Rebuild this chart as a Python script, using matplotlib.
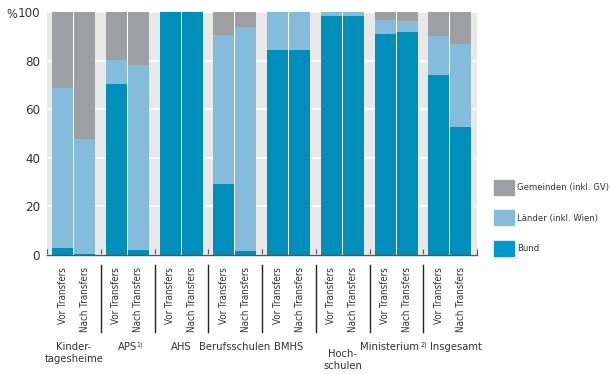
import matplotlib
matplotlib.use("Agg")
import matplotlib.pyplot as plt
from matplotlib.patches import Patch
import numpy as np

plt.rcParams["font.family"] = ["DejaVu Sans"]
plt.rcParams["font.stretch"] = "condensed"

# Daten (Anteile in %)
categories = ["Kinder-\ntagesheime", "APS", "AHS", "Berufsschulen", "BMHS",
              "Hoch-\nschulen", "Ministerium", "Insgesamt"]
bund_vor = [2.9, 70.4, 100, 29.4, 84.4, 98.4, 90.9, 74.2]
bund_nach = [0.3, 1.9, 100, 1.5, 84.4, 98.4, 91.8, 52.8]
laender_vor = [65.9, 9.9, 0, 61.2, 15.6, 1.6, 5.8, 15.9]
laender_nach = [47.6, 76.4, 0, 92.4, 15.6, 1.6, 4.5, 34.1]
gemeinden_vor = [31.2, 19.7, 0, 9.4, 0, 0, 3.3, 9.9]
gemeinden_nach = [52.1, 21.7, 0, 6.1, 0, 0, 3.7, 13.1]

c_bund = "#008fbb"
c_laender = "#85bcdb"
c_gem = "#9d9fa3"
c_text = "#333333"

fig = plt.figure(figsize=(6.14, 3.74), dpi=100)
ax = fig.add_axes([47 / 614, 1 - 255 / 374, 430 / 614, 243 / 374])
ax.set_facecolor("#e8e8e8")

x = np.arange(len(categories))
w = 0.39
for pos, b, l, g in [(x + 0.29, bund_vor, laender_vor, gemeinden_vor),
                     (x + 0.70, bund_nach, laender_nach, gemeinden_nach)]:
    b = np.array(b)
    l = np.array(l)
    g = np.array(g)
    ax.bar(pos, b, w, color=c_bund, lw=0, zorder=2)
    ax.bar(pos, l, w, bottom=b, color=c_laender, lw=0, zorder=2)
    ax.bar(pos, g, w, bottom=b + l, color=c_gem, lw=0, zorder=2)

# weisser Spalt zwischen Vor/Nach
for i in x:
    ax.axvspan(i + 0.485, i + 0.505, color="white", lw=0, zorder=1)

ax.set_xlim(0, len(categories))
ax.set_ylim(0, 100)
ax.set_yticks([0, 20, 40, 60, 80, 100])
ax.yaxis.grid(True, color="white", lw=1.2, zorder=0)
ax.set_axisbelow(True)
ax.tick_params(axis="y", length=0, labelsize=9.5, labelcolor=c_text, pad=5)

# Achsen-Ticks zwischen Gruppen
ax.set_xticks(np.arange(len(categories) + 1), minor=True)
ax.tick_params(axis="x", which="minor", direction="in", length=4, width=0.8, color="#555555")
ticks = np.concatenate([x + 0.29, x + 0.70])
labels = ["Vor Transfers"] * len(x) + ["Nach Transfers"] * len(x)
ax.set_xticks(ticks)
ax.set_xticklabels(labels, rotation=90, fontsize=7, color=c_text, va="top")
ax.tick_params(axis="x", which="major", length=0, pad=9)

for s in ["top", "right", "left"]:
    ax.spines[s].set_visible(False)
ax.spines["bottom"].set_color("#555555")
ax.spines["bottom"].set_linewidth(1)

tr = ax.get_xaxis_transform()
# Trennlinien unter der Achse
for i in range(1, len(categories)):
    ax.plot([i, i], [-10 / 243, -77 / 243], transform=tr, color="#222222",
            lw=1, clip_on=False)

label_x = [0.5, 1.5, 2.5, 3.5, 4.5, 5.5, 6.37, 7.6]
for i, c in enumerate(categories):
    yy = -87 / 243
    if i == 5:
        yy = -94 / 243
    ax.text(label_x[i], yy, c, transform=tr, ha="center", va="top",
            fontsize=8, color=c_text, linespacing=1.3)

ax.text(1.66, -86 / 243, "1)", transform=tr, fontsize=5, color=c_text, va="top")
ax.text(7.01, -86 / 243, "2)", transform=tr, fontsize=5, color=c_text, va="top", ha="center")

fig.text(6 / 614, 1 - 15 / 374, "%", fontsize=9, color=c_text, va="center")

handles = [Patch(color=c_gem, label="Gemeinden (inkl. GV)"),
           Patch(color="#85bcdb", label="Länder (inkl. Wien)"),
           Patch(color="#0099cc", label="Bund")]
fig.legend(handles=handles, loc="upper left", bbox_to_anchor=(492 / 614, 1 - 178 / 374),
           frameon=False, fontsize=6.8, handlelength=2.1, handleheight=2.1,
           labelspacing=1.6, handletextpad=0.35, labelcolor=c_text,
           borderaxespad=0, borderpad=0.2)

fig.savefig("out.png", dpi=100)
